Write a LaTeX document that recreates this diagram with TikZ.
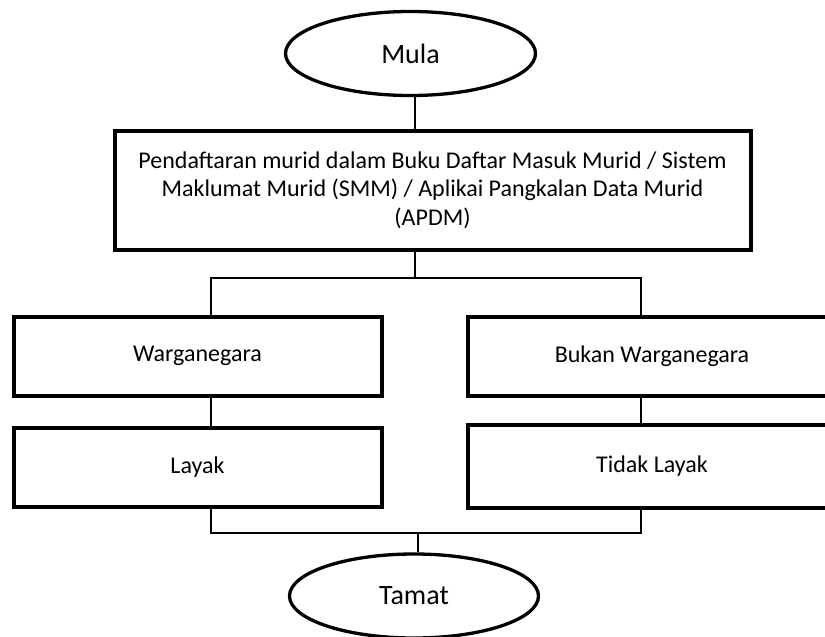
\documentclass[tikz,border=0pt]{standalone}
\usepackage{fontspec}
\setmainfont{Carlito}
\usepackage{tikz}
\usetikzlibrary{shapes.geometric}

\tikzset{
  termoval/.style={draw,ellipse,line width=3.3pt,inner sep=0pt,font={\fontsize{28}{33}\selectfont}},
  procbox/.style={draw,rectangle,line width=4pt,inner sep=0pt,font={\fontsize{24}{28.5}\selectfont},align=center},
  link/.style={line width=2pt}
}

\begin{document}
\begin{tikzpicture}[x=1pt,y=-1pt]
\useasboundingbox (0,0) rectangle (825,637);

% Terminals
\node[termoval,minimum width=250,minimum height=84] (mula) at (410.5,53.5) {Mula};
\node[termoval,minimum width=249,minimum height=84] (tamat) at (414,596) {Tamat};

% Process boxes
\node[procbox,minimum width=636,minimum height=119] (daftar) at (432.5,190)
  {Pendaftaran murid dalam Buku Daftar Masuk Murid / Sistem\\
   Maklumat Murid (SMM) / Aplikai Pangkalan Data Murid\\
   (APDM)};
\node[procbox,minimum width=368,minimum height=79] (warga) at (197.5,356) {Warganegara};
\node[procbox,minimum width=368,minimum height=79] (bukan) at (652,356) {Bukan Warganegara};
\node[procbox,minimum width=368,minimum height=79] (layak) at (197.5,467) {Layak};
\node[procbox,minimum width=368,minimum height=83] (tidak) at (652,466.5) {Tidak Layak};

% Connector columns
\coordinate (trunk) at (415,0);
\coordinate (lcol) at (211,0);
\coordinate (rcol) at (641,0);
\coordinate (split) at (415,278);
\coordinate (join) at (418,533);

% Connectors
\draw[link] (mula.south -| trunk) -- (daftar.north -| trunk);
\draw[link] (daftar.south -| trunk) -- (split);
\draw[link] (warga.north -| lcol) |- (split) -| (bukan.north -| rcol);
\draw[link] (warga.south -| lcol) -- (layak.north -| lcol);
\draw[link] (bukan.south -| rcol) -- (tidak.north -| rcol);
\draw[link] (layak.south -| lcol) |- (join) -| (tidak.south -| rcol);
\draw[link] (join) -- (join |- tamat.north);
\end{tikzpicture}
\end{document}
